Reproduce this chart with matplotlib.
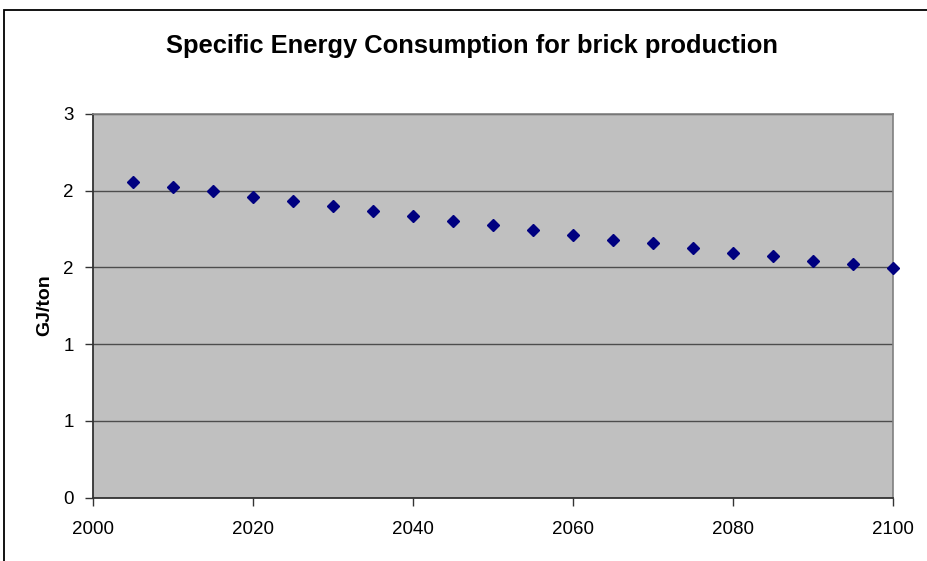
import matplotlib
matplotlib.use("Agg")
import matplotlib.pyplot as plt
from matplotlib.patches import Rectangle
from matplotlib.ticker import FuncFormatter

plt.rcParams['font.family'] = ['Liberation Sans', 'DejaVu Sans']

years = [2005, 2010, 2015, 2020, 2025, 2030, 2035, 2040, 2045, 2050,
         2055, 2060, 2065, 2070, 2075, 2080, 2085, 2090, 2095, 2100]
energy = [2.057, 2.025, 1.995, 1.962, 1.932, 1.899, 1.867, 1.834, 1.803, 1.774,
          1.741, 1.710, 1.678, 1.656, 1.626, 1.595, 1.572, 1.541, 1.519, 1.497]
x_ticks = [2000, 2020, 2040, 2060, 2080, 2100]
y_ticks = [0, 0.5, 1.0, 1.5, 2.0, 2.5]

W, H = 927, 561
fig = plt.figure(figsize=(W / 100, H / 100), dpi=100)
fig.patch.set_facecolor('white')

# chart-area border (runs off the right and bottom edges)
fig.patches.append(Rectangle((4 / W, -0.1), 1.2, 1.1 - 10 / H, transform=fig.transFigure,
                             fill=False, edgecolor='black', linewidth=1.3, clip_on=False))

left, right, top, bottom = 93, 893, 114, 497.5
ax = fig.add_axes([left / W, 1 - bottom / H, (right - left) / W, (bottom - top) / H])
ax.set_facecolor('#c0c0c0')

ax.plot(years, energy, linestyle='none', marker='D', markersize=6.5,
        color='#000080', markeredgecolor='#000080', clip_on=False, zorder=5)

ax.set_xlim(2000, 2100)
ax.set_ylim(0, 2.5)
ax.set_xticks(x_ticks)
ax.set_yticks(y_ticks)
# whole-number labels, rounding half up
ax.yaxis.set_major_formatter(FuncFormatter(lambda v, p: f"{int(v + 0.5 + 1e-9)}"))
ax.grid(axis='y', color='#4d4d4d', linewidth=1.0)
ax.set_axisbelow(True)

for side in ('top', 'right'):
    ax.spines[side].set_color('#808080')
    ax.spines[side].set_linewidth(1.2)
for side in ('left', 'bottom'):
    ax.spines[side].set_color('#333333')
    ax.spines[side].set_linewidth(1.3)

ax.tick_params(axis='x', direction='out', length=6, width=1, color='#333333',
               labelsize=13.5, pad=11)
ax.tick_params(axis='y', direction='out', length=6, width=1, color='#333333',
               labelsize=13.5, pad=8)

ax.set_ylabel('GJ/ton', fontsize=14, fontweight='bold')
ax.yaxis.set_label_coords((53.5 - left) / (right - left), (bottom - 305) / (bottom - top))
fig.text(472 / W, 1 - 46 / H, 'Specific Energy Consumption for brick production',
         ha='center', va='center', fontsize=18.4, fontweight='bold')

fig.savefig('out.png', dpi=100)
